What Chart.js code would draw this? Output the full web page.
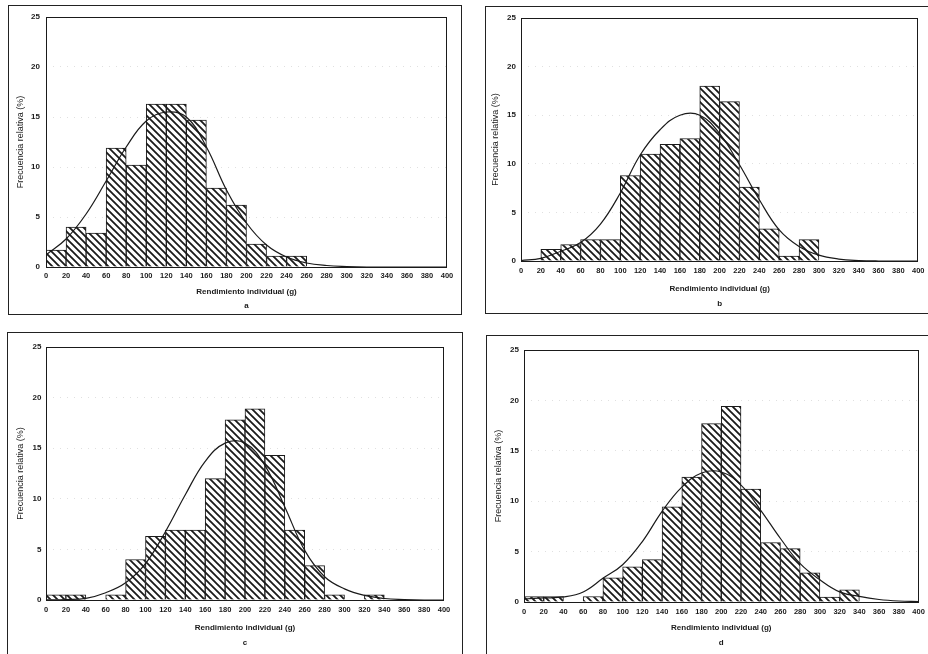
<!DOCTYPE html>
<html lang="es">
<head>
<meta charset="UTF-8">
<title>Rendimiento individual</title>
<script src="https://cdn.jsdelivr.net/npm/chart.js"></script>
<style>
    body {
        margin: 0;
        width: 928px;
        height: 654px;
        overflow: hidden;
        position: relative;
        background: #fff;
        font-family: 'Liberation Sans', Arial, sans-serif;
    }

    .panel {
        position: absolute;
        border: 1px solid #222;
    }

    .panel canvas {
        position: absolute;
        left: 0;
        top: 0;
    }
</style>
</head>
<body>
    <div class="panel" style="left:8px;top:5px;width:452px;height:308px"><canvas id="chartA" width="452" height="308"></canvas></div>
    <div class="panel" style="left:485px;top:6px;width:444px;height:306px"><canvas id="chartB" width="444" height="306"></canvas></div>
    <div class="panel" style="left:7px;top:332px;width:454px;height:330px"><canvas id="chartC" width="454" height="321"></canvas></div>
    <div class="panel" style="left:486px;top:335px;width:443px;height:330px"><canvas id="chartD" width="443" height="318"></canvas></div>

<script>
    // centres of the 20 g classes
    const BIN_MID = [10, 30, 50, 70, 90, 110, 130, 150, 170, 190, 210, 230, 250, 270, 290, 310, 330, 350, 370, 390];
    // x positions where the fitted curve was read
    const CURVE_X = [0, 20, 40, 60, 80, 100, 120, 140, 160, 180, 200, 220, 240, 260, 280, 300, 320, 340, 360, 380, 400];

    const X_TICKS = [0, 20, 40, 60, 80, 100, 120, 140, 160, 180, 200, 220, 240, 260, 280, 300, 320, 340, 360, 380, 400];
    const Y_TICKS = [0, 5, 10, 15, 20, 25];

    const X_TITLE = 'Rendimiento individual (g)';
    const Y_TITLE = 'Frecuencia relativa (%)';

    // frecuencia relativa (%) per class
    const barsA = [1.7, 4.0, 3.4, 11.9, 10.2, 16.3, 16.3, 14.7, 7.9, 6.2, 2.3, 1.1, 1.1, 0, 0, 0, 0, 0, 0, 0];
    const barsB = [0, 1.2, 1.7, 2.2, 2.2, 8.8, 11.0, 12.0, 12.6, 18.0, 16.4, 7.6, 3.3, 0.5, 2.2, 0, 0, 0, 0, 0];
    const barsC = [0.5, 0.5, 0, 0.5, 4.0, 6.3, 6.9, 6.9, 12.0, 17.8, 18.9, 14.3, 6.9, 3.4, 0.5, 0, 0.5, 0, 0, 0];
    const barsD = [0.55, 0.55, 0, 0.55, 2.4, 3.5, 4.2, 9.45, 12.4, 17.7, 19.4, 11.2, 5.9, 5.3, 2.9, 0.5, 1.2, 0, 0, 0];

    // normal curve
    const curveA = [1.2, 2.8, 5.3, 8.6, 12.0, 14.6, 15.5, 15.0, 12.0, 7.7, 4.4, 2.2, 1.0, 0.4, 0.15, 0.05, 0, 0, 0, 0, 0];
    const curveB = [0.05, 0.27, 1.0, 1.9, 3.8, 7.0, 10.9, 13.5, 15.0, 15.0, 13.1, 9.9, 6.3, 3.2, 1.5, 0.6, 0.2, 0.05, 0, 0, 0];
    const curveC = [0.02, 0.05, 0.16, 0.72, 1.7, 3.6, 6.75, 10.4, 13.7, 15.5, 15.5, 13.3, 9.2, 4.9, 2.3, 1.1, 0.45, 0.15, 0.05, 0, 0];
    const curveD = [0.3, 0.4, 0.5, 1.0, 2.35, 3.7, 6.0, 9.0, 11.4, 12.8, 12.9, 11.6, 9.1, 6.3, 3.8, 2.2, 1.0, 0.55, 0.25, 0.1, 0.05];

    const INK = '#1a1a1a';
    const FONT = "'Liberation Sans', Arial, sans-serif";

    function makeHatch() {
        const size = 7;
        const c = document.createElement('canvas');
        c.width = size;
        c.height = size;
        const g = c.getContext('2d');
        g.fillStyle = '#fff';
        g.fillRect(0, 0, size, size);
        g.strokeStyle = INK;
        g.lineWidth = 1.8;
        g.beginPath();
        g.moveTo(-1, -1); g.lineTo(size + 1, size + 1);
        g.moveTo(-1, size - 1); g.lineTo(1, size + 1);
        g.moveTo(size - 1, -1); g.lineTo(size + 1, 1);
        g.stroke();
        return c;
    }

    const hatchCanvas = makeHatch();

    // box round the plotting area
    const framePlugin = {
        id: 'plotFrame',
        afterDatasetsDraw(chart) {
            const a = chart.chartArea;
            const ctx = chart.ctx;
            ctx.save();
            ctx.strokeStyle = INK;
            ctx.lineWidth = 1;
            ctx.strokeRect(Math.round(a.left) + 0.5, Math.round(a.top) + 0.5,
                Math.round(a.right - a.left) - 1, Math.round(a.bottom - a.top));
            ctx.restore();
        }
    };

    function drawPanel(id, letter, bars, curve, L) {
        const canvas = document.getElementById(id);
        const ctx = canvas.getContext('2d');
        const hatch = ctx.createPattern(hatchCanvas, 'repeat');

        return new Chart(canvas, {
            type: 'bar',
            data: {
                datasets: [
                    {
                        type: 'line',
                        data: CURVE_X.map((x, i) => ({ x: x, y: curve[i] })),
                        borderColor: INK,
                        borderWidth: 1.2,
                        pointRadius: 0,
                        tension: 0.4,
                        fill: false,
                        order: 0
                    },
                    {
                        type: 'bar',
                        data: BIN_MID.map((x, i) => ({ x: x, y: bars[i] })),
                        backgroundColor: hatch,
                        borderColor: INK,
                        borderWidth: 1,
                        barPercentage: 1,
                        categoryPercentage: 1,
                        order: 1
                    }
                ]
            },
            options: {
                responsive: false,
                animation: false,
                events: [],
                layout: {
                    padding: { left: 0, top: L.top, right: L.right, bottom: 0 }
                },
                plugins: {
                    legend: { display: false },
                    tooltip: { enabled: false }
                },
                scales: {
                    x: {
                        type: 'linear',
                        min: 0,
                        max: 400,
                        offset: false,
                        afterFit: (s) => { s.height = L.xh; },
                        afterBuildTicks: (s) => { s.ticks = X_TICKS.map(v => ({ value: v })); },
                        grid: { display: false, drawTicks: false },
                        border: { display: false },
                        ticks: {
                            autoSkip: false,
                            maxRotation: 0,
                            padding: L.xpad,
                            color: INK,
                            font: { family: FONT, size: 7.5, weight: 'bold' }
                        },
                        title: {
                            display: true,
                            text: [X_TITLE, letter],
                            color: INK,
                            padding: { top: 0, bottom: L.tpad },
                            font: { family: FONT, size: 8, weight: 'bold', lineHeight: L.lh + 'px' }
                        }
                    },
                    y: {
                        min: 0,
                        max: 25,
                        afterFit: (s) => { s.width = L.yw; },
                        afterBuildTicks: (s) => { s.ticks = Y_TICKS.map(v => ({ value: v })); },
                        grid: {
                            drawTicks: false,
                            color: 'rgba(0,0,0,0.12)',
                            lineWidth: 1
                        },
                        border: { display: false, dash: [1, 6] },
                        ticks: {
                            padding: L.ypad,
                            color: INK,
                            font: { family: FONT, size: 8, weight: 'bold' }
                        },
                        title: {
                            display: true,
                            text: Y_TITLE,
                            color: INK,
                            padding: { top: L.ytpad, bottom: 0 },
                            font: { family: FONT, size: 9 }
                        }
                    }
                }
            },
            plugins: [framePlugin]
        });
    }

    drawPanel('chartA', 'a', barsA, curveA, { top: 11, right: 14, yw: 37, xh: 47, xpad: 4.5, tpad: 1, lh: 14, ypad: 6, ytpad: 6.5 });
    drawPanel('chartB', 'b', barsB, curveB, { top: 11, right: 10, yw: 35, xh: 52, xpad: 5.5, tpad: 1.2, lh: 15.5, ypad: 5, ytpad: 4.5 });
    drawPanel('chartC', 'c', barsC, curveC, { top: 14, right: 18, yw: 38, xh: 54, xpad: 5.5, tpad: 4, lh: 14.5, ypad: 4.5, ytpad: 7 });
    drawPanel('chartD', 'd', barsD, curveD, { top: 14, right: 11, yw: 37, xh: 52, xpad: 5.2, tpad: 4, lh: 14.7, ypad: 5, ytpad: 6.5 });
</script>
</body>
</html>
